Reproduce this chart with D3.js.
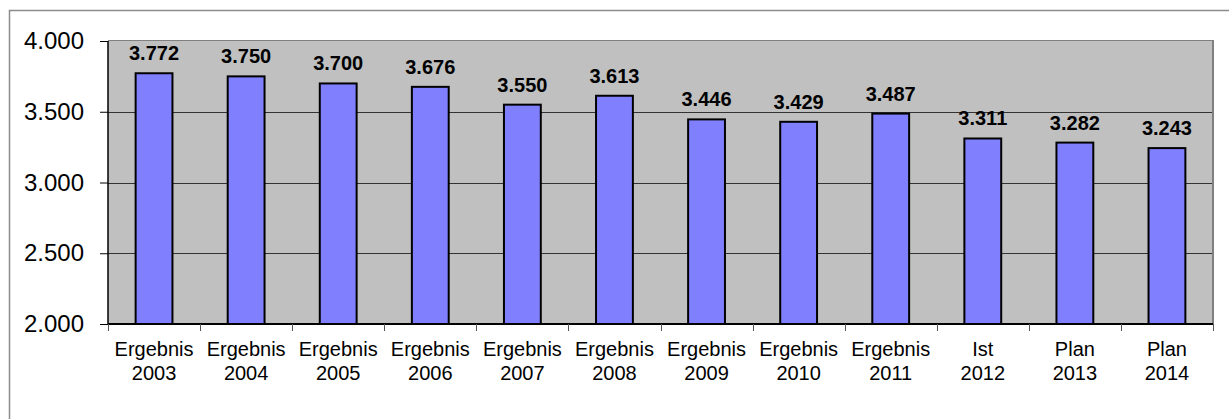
<!DOCTYPE html>
<html>
<head>
<meta charset="utf-8">
<script src="https://cdn.jsdelivr.net/npm/d3@7"></script>
<style>
html,body{margin:0;padding:0;background:#fff;}
svg{display:block;}
text{font-family:"Liberation Sans", Arial, sans-serif;}
</style>
</head>
<body>
<svg id="chart" width="1229" height="419"></svg>
<script>
const categoryLine1 = ["Ergebnis","Ergebnis","Ergebnis","Ergebnis","Ergebnis","Ergebnis","Ergebnis","Ergebnis","Ergebnis","Ist","Plan","Plan"];
const categoryYears = ["2003","2004","2005","2006","2007","2008","2009","2010","2011","2012","2013","2014"];
const values = [3772,3750,3700,3676,3550,3613,3446,3429,3487,3311,3282,3243];
const yTicks = [2000,2500,3000,3500,4000];

(function(){
const svg = d3.select("#chart");
const W = 1229, H = 419;
const pLeft = 108, pRight = 1213, pTop = 41, pBottom = 324;

const de = d3.formatLocale({decimal:",", thousands:".", grouping:[3], currency:["","€"]});
const fmt = de.format(",.0f");

// outer border
svg.append("rect").attr("x",9.5).attr("y",10.5).attr("width",W).attr("height",H)
  .attr("fill","none").attr("stroke","#8c8c8c").attr("stroke-width",1.5);

const x = d3.scaleBand().domain(categoryYears).range([pLeft,pRight]);
const y = d3.scaleLinear().domain([2000,4000]).range([pBottom,pTop]);

// plot background
svg.append("rect").attr("x",pLeft).attr("y",pTop).attr("width",pRight-pLeft).attr("height",pBottom-pTop)
  .attr("fill","#C0C0C0");
// plot frame top and right
svg.append("line").attr("x1",pLeft).attr("x2",pRight).attr("y1",pTop-0.5).attr("y2",pTop-0.5)
  .attr("stroke","#808080").attr("stroke-width",1);
svg.append("line").attr("x1",pRight).attr("x2",pRight).attr("y1",pTop-1).attr("y2",pBottom)
  .attr("stroke","#808080").attr("stroke-width",2);

// gridlines
svg.append("g").selectAll("line").data(yTicks.filter(t=>t>2000 && t<4000)).join("line")
  .attr("x1",pLeft).attr("x2",pRight-1)
  .attr("y1",d=>Math.round(y(d))+0.5).attr("y2",d=>Math.round(y(d))+0.5)
  .attr("stroke","#333").attr("stroke-width",1);

// bars
const bw = x.bandwidth()*0.4;
svg.append("g").selectAll("rect").data(values).join("rect")
  .attr("x",(d,i)=>x(categoryYears[i])+x.bandwidth()/2-bw/2)
  .attr("y",d=>y(d))
  .attr("width",bw)
  .attr("height",d=>pBottom-y(d))
  .attr("fill","#8080FF").attr("stroke","#000").attr("stroke-width",2);

// value labels
svg.append("g").selectAll("text").data(values).join("text")
  .attr("x",(d,i)=>x(categoryYears[i])+x.bandwidth()/2)
  .attr("y",d=>y(d)-13)
  .attr("text-anchor","middle")
  .attr("font-size","20px").attr("font-weight","bold").attr("fill","#000")
  .text(d=>fmt(d));

// y axis
const yAxis = d3.axisLeft(y).tickValues(yTicks).tickSize(8).tickPadding(16).tickFormat(d=>fmt(d));
const gy = svg.append("g").attr("transform",`translate(${pLeft},0)`).call(yAxis);
gy.select(".domain").attr("stroke","#000").attr("stroke-width",1.5).attr("d",`M0,${pTop}V${pBottom}`);
gy.selectAll(".tick line").attr("stroke","#000");
gy.selectAll(".tick text").attr("font-size","24px").attr("font-family","Liberation Sans, Arial, sans-serif").attr("fill","#000");

// x axis line
svg.append("line").attr("x1",pLeft).attr("x2",pRight).attr("y1",pBottom).attr("y2",pBottom)
  .attr("stroke","#000").attr("stroke-width",2);
// x ticks at band boundaries
const bounds = categoryYears.map(c=>x(c)).concat([pRight]);
svg.append("g").selectAll("line").data(bounds).join("line")
  .attr("x1",d=>Math.round(d)+0.5).attr("x2",d=>Math.round(d)+0.5)
  .attr("y1",pBottom).attr("y2",pBottom+7)
  .attr("stroke","#555").attr("stroke-width",1);

// category labels
const cl = svg.append("g").selectAll("text").data(categoryYears).join("text")
  .attr("text-anchor","middle").attr("font-size","20px").attr("fill","#000");
cl.append("tspan").attr("x",d=>x(d)+x.bandwidth()/2).attr("y",356).text((d,i)=>categoryLine1[i]);
cl.append("tspan").attr("x",d=>x(d)+x.bandwidth()/2).attr("y",380).text(d=>d);
})();
</script>
</body>
</html>
